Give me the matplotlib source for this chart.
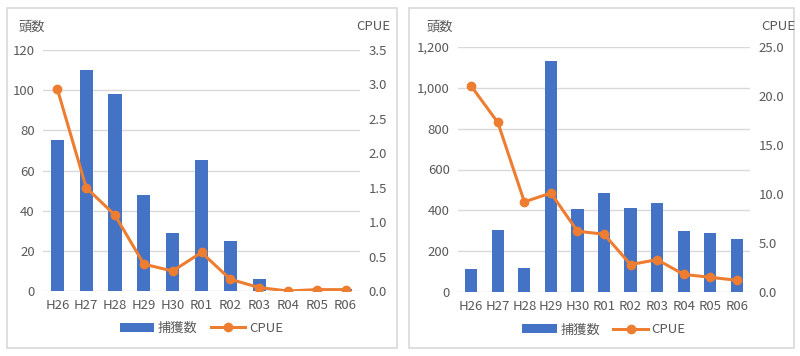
import matplotlib
matplotlib.use('Agg')
import matplotlib.pyplot as plt
from matplotlib.patches import Rectangle
from matplotlib.ticker import FuncFormatter

plt.rcParams['font.family'] = ['Noto Sans CJK JP', 'DejaVu Sans']

years = ['H26', 'H27', 'H28', 'H29', 'H30', 'R01', 'R02', 'R03', 'R04', 'R05', 'R06']

# left panel
catch_a = [75, 110, 98, 48, 29, 65, 25, 6, 0, 1, 1]
cpue_a = [2.93, 1.50, 1.10, 0.39, 0.29, 0.56, 0.17, 0.05, 0.0, 0.02, 0.02]

# right panel
catch_b = [115, 302, 118, 1130, 406, 487, 409, 438, 299, 288, 258]
cpue_b = [21.0, 17.3, 9.2, 10.1, 6.2, 5.9, 2.8, 3.3, 1.8, 1.5, 1.2]

BLUE = '#4472C4'
ORANGE = '#ED7D31'
GRID = '#D9D9D9'
TXT = '#595959'

fig = plt.figure(figsize=(8, 3.56), dpi=100)

# panel frames (pixels -> figure fraction)
for x0, x1 in [(7, 397), (409, 794)]:
    fig.patches.append(Rectangle((x0 / 800, 8 / 356), (x1 - x0) / 800, 340 / 356,
                                 transform=fig.transFigure, fill=False,
                                 edgecolor=GRID, linewidth=1.2))


def panel(rect, catch, cpue, ymax, ystep, y2max, y2step, lfmt, rfmt, lab_l, lab_r):
    ax = fig.add_axes(rect)
    x = range(len(years))
    ax.bar(x, catch, width=0.46, color=BLUE, label='捕獲数', zorder=2)
    ax.set_ylim(0, ymax)
    ax.set_yticks([i * ystep for i in range(int(ymax / ystep) + 1)])
    ax.yaxis.set_major_formatter(FuncFormatter(lfmt))
    ax.set_xlim(-0.5, len(years) - 0.5)
    ax.set_xticks(list(x))
    ax.set_xticklabels(years)
    ax.grid(axis='y', color=GRID, linewidth=1)
    ax.set_axisbelow(True)
    for s in ax.spines.values():
        s.set_visible(False)
    ax.tick_params(length=0, colors=TXT, labelsize=9.5, pad=6)

    ax2 = ax.twinx()
    ax2.plot(list(x), cpue, color=ORANGE, linewidth=2.2, marker='o',
             markersize=6, label='CPUE', zorder=3)
    ax2.set_ylim(0, y2max)
    ax2.set_yticks([round(i * y2step, 2) for i in range(int(round(y2max / y2step)) + 1)])
    ax2.yaxis.set_major_formatter(FuncFormatter(rfmt))
    for s in ax2.spines.values():
        s.set_visible(False)
    ax2.tick_params(length=0, colors=TXT, labelsize=9.5, pad=6)

    fig.text(lab_l, 0.925, '頭数', color=TXT, fontsize=9.5, va='center')
    fig.text(lab_r, 0.925, 'CPUE', color=TXT, fontsize=9.5, va='center')

    h1, l1 = ax.get_legend_handles_labels()
    h2, l2 = ax2.get_legend_handles_labels()
    ax.legend(h1 + h2, l1 + l2, loc='center', bbox_to_anchor=(0.5, -0.155),
              ncol=2, frameon=False, fontsize=9.5, labelcolor=TXT,
              handlelength=2.6, columnspacing=1.0, handletextpad=0.3)


panel([43 / 800, 65 / 356, 317 / 800, 241 / 356], catch_a, cpue_a,
      120, 20, 3.5, 0.5,
      lambda v, p: f'{v:.0f}', lambda v, p: f'{v:.1f}', 19 / 800, 356 / 800)
panel([458 / 800, 64 / 356, 292 / 800, 245 / 356], catch_b, cpue_b,
      1200, 200, 25, 5,
      lambda v, p: f'{v:,.0f}', lambda v, p: f'{v:.1f}', 427 / 800, 761 / 800)

fig.savefig('out.png', dpi=100)
